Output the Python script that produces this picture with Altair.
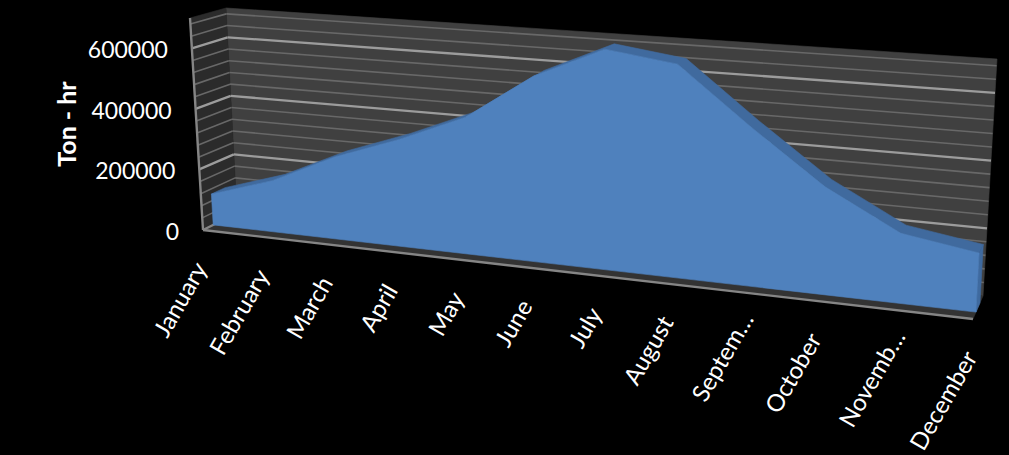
import altair as alt
import numpy as np
import pandas as pd

# Monthly cooling load shown as a 3-D area on a perspective box
months = ["January", "February", "March", "April", "May", "June", "July",
          "August", "Septem…", "October", "Novemb…", "December"]
tons = [103000, 169000, 267000, 344000, 434000, 582000, 682000,
        652000, 479000, 320000, 205000, 171000]
value_ticks = [0, 200000, 400000, 600000]
minor_ticks = [v for v in range(0, 700001, 40000) if v % 200000]
axis_top = 700000

# Box corners on the page, keyed by (right?, top?, back?)
BOX = {
    (0, 0, 0): (203, 230), (1, 0, 0): (973, 319),
    (0, 0, 1): (237, 213), (1, 0, 1): (983, 296),
    (0, 1, 0): (190, 18), (1, 1, 0): (985, 75),
    (0, 1, 1): (226, 8), (1, 1, 1): (997, 59),
}
FORESHORTEN = 1.14
FACE_DEPTH, BACK_DEPTH = 0.3, 0.7


def month_pos(i):
    t = i / (len(months) - 1)
    return t / (t + FORESHORTEN * (1 - t))


def project(u, value, depth):
    """Trilinear placement of a point in the box (u and depth in 0..1)."""
    v = value / axis_top
    total = np.zeros(2)
    for (a, b, c), corner in BOX.items():
        w = (u if a else 1 - u) * (v if b else 1 - v) * (depth if c else 1 - depth)
        total += w * np.array(corner)
    return total


X = alt.X("px:Q", scale=alt.Scale(domain=[0, 1009]), axis=None)
Y = alt.Y("py:Q", scale=alt.Scale(domain=[455, 0]), axis=None)


def polygon(points, fill):
    pts = list(points) + [points[0]]
    frame = pd.DataFrame({"px": [p[0] for p in pts], "py": [p[1] for p in pts], "i": range(len(pts))})
    return alt.Chart(frame).mark_line(fill=fill, stroke=fill, strokeWidth=0.6).encode(
        x=X, y=Y, order="i:Q")


def segments(pairs, color, width):
    frame = pd.DataFrame({"px": [a[0] for a, _ in pairs], "py": [a[1] for a, _ in pairs],
                          "px2": [b[0] for _, b in pairs], "py2": [b[1] for _, b in pairs]})
    return alt.Chart(frame).mark_rule(color=color, strokeWidth=width).encode(
        x=X, y=Y, x2="px2:Q", y2="py2:Q")


walls = [
    polygon([project(0, 0, 1), project(1, 0, 1), project(1, axis_top, 1), project(0, axis_top, 1)], "#404040"),
    polygon([project(0, 0, 0), project(0, 0, 1), project(0, axis_top, 1), project(0, axis_top, 0)], "#2b2b2b"),
    polygon([project(0, 0, 0), project(1, 0, 0), project(1, 0, 1), project(0, 0, 1)], "#333333"),
]


def grid_pairs(values):
    out = []
    for v in values:
        out.append((project(0, v, 0), project(0, v, 1)))
        out.append((project(0, v, 1), project(1, v, 1)))
    return out


grid = [
    segments(grid_pairs(minor_ticks), "#686868", 1.6),
    segments(grid_pairs(value_ticks[1:]), "#9c9c9c", 2.3),
    segments([(project(0, 0, 0), project(0, axis_top, 0)),
              (project(0, 0, 0), project(1, 0, 0)),
              (project(0, 0, 0), project(0, 0, 1))], "#858585", 2.4),
]

# The filled series: ribbon along the top, end cap, then the front face
front_top = [project(month_pos(i), v, FACE_DEPTH) for i, v in enumerate(tons)]
back_top = [project(month_pos(i), v, BACK_DEPTH) for i, v in enumerate(tons)]
last = tons[-1]
series = [
    polygon(front_top + back_top[::-1], "#406a9e"),
    polygon([project(1, 0, FACE_DEPTH), project(1, last, FACE_DEPTH),
             project(1, last, BACK_DEPTH), project(1, 0, BACK_DEPTH)], "#3f6a9f"),
    polygon(front_top + [project(1, 0, FACE_DEPTH), project(0, 0, FACE_DEPTH)], "#4f81bd"),
]

value_labels = pd.DataFrame({
    "label": [str(v) for v in value_ticks],
    "px": [project(0, v, 0)[0] - 24 for v in value_ticks],
    "py": [project(0, v, 0)[1] + 3 for v in value_ticks],
})
value_text = alt.Chart(value_labels).mark_text(
    align="right", baseline="middle", font="Lato", fontSize=23, color="#ffffff"
).encode(x=X, y=Y, text="label:N")


# Truncated month names sit a little further along their slant
def slant_shift(name):
    return (7, -12) if name.endswith("…") else (0, 0)


month_labels = pd.DataFrame({
    "label": months,
    "px": [project(month_pos(i), 0, 0)[0] - 1 + slant_shift(m)[0] for i, m in enumerate(months)],
    "py": [project(month_pos(i), 0, 0)[1] + 35 + slant_shift(m)[1] for i, m in enumerate(months)],
})
month_text = alt.Chart(month_labels).mark_text(
    align="right", baseline="middle", angle=300, font="Lato", fontSize=24, color="#ffffff"
).encode(x=X, y=Y, text="label:N")

title = alt.Chart(pd.DataFrame({"px": [68], "py": [124], "label": ["Ton - hr"]})).mark_text(
    align="center", baseline="middle", angle=270, font="Lato", fontSize=25,
    fontWeight="bold", color="#ffffff"
).encode(x=X, y=Y, text="label:N")

chart = alt.layer(*walls, *grid, *series, value_text, month_text, title).properties(
    width=1009, height=455, background="#000000", padding=0,
    autosize=alt.AutoSizeParams(type="none"),
).configure_view(stroke=None)

chart.save("out.html", embed_options={"renderer": "svg", "actions": False})
